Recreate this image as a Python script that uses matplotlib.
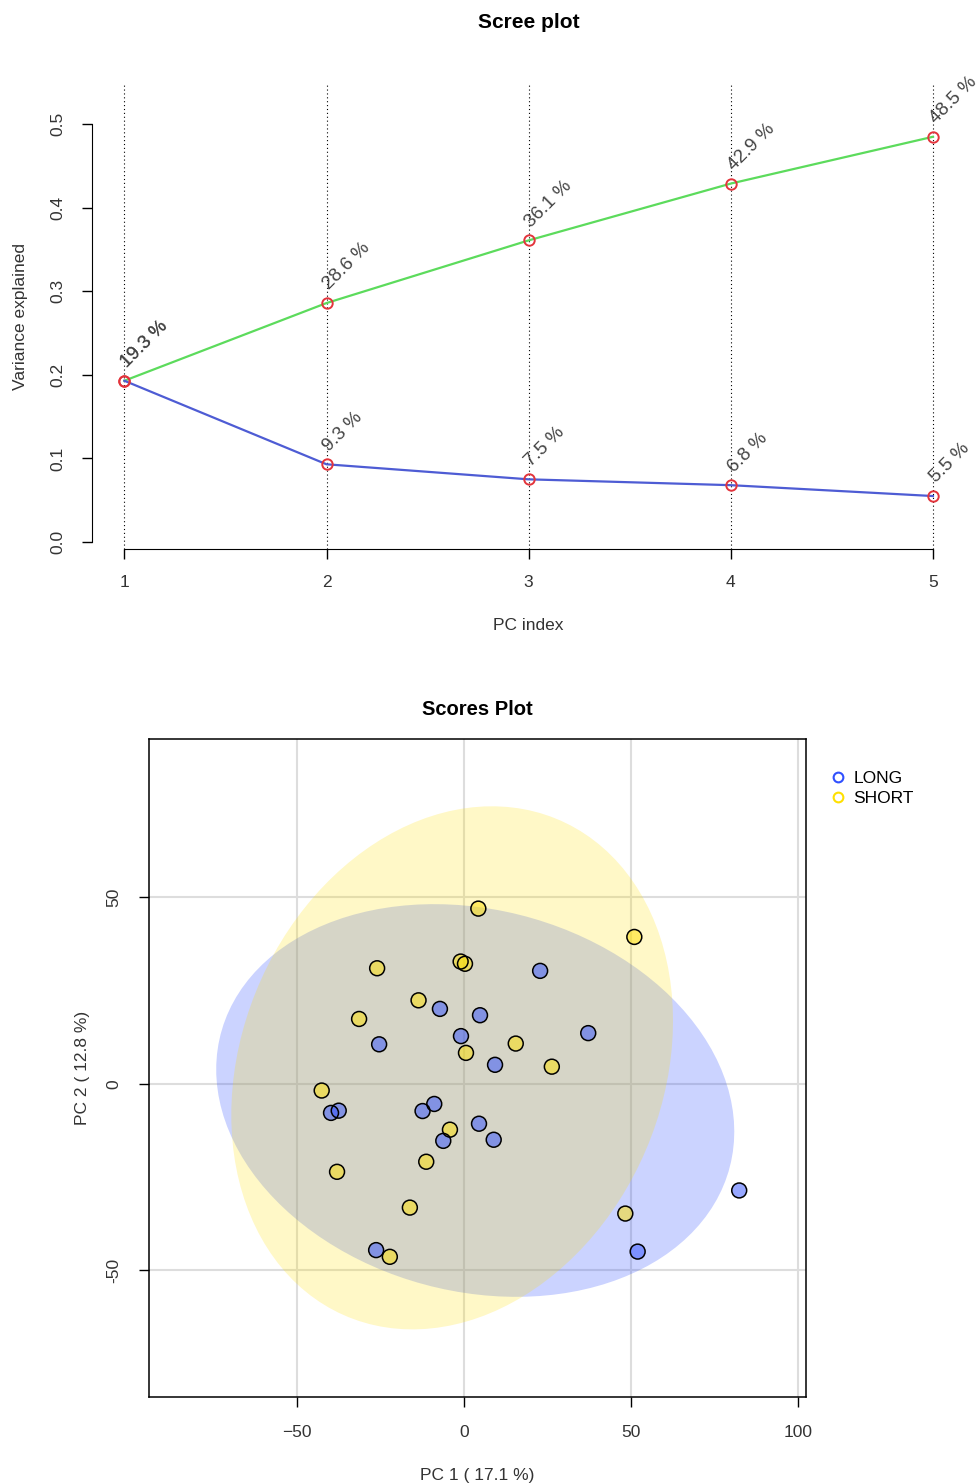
import numpy as np
import matplotlib
matplotlib.use('Agg')
import matplotlib.pyplot as plt
from matplotlib.lines import Line2D

plt.rcParams['font.family'] = ['Liberation Sans', 'DejaVu Sans']

# scree data
pcs = [1, 2, 3, 4, 5]
var_exp = [0.193, 0.093, 0.075, 0.068, 0.055]
cum_exp = [0.193, 0.286, 0.361, 0.429, 0.485]

# scores data (PC1, PC2)
long_pc1 = [22.8, -7.2, 4.8, 37.2, -0.9, -25.4, 9.3, -39.8, -37.5, -8.9, -12.4, 4.5, -6.2, 8.9, 82.4, -26.3, 52.0]
long_pc2 = [30.3, 20.1, 18.4, 13.6, 12.8, 10.6, 5.1, -7.8, -7.2, -5.4, -7.3, -10.7, -15.3, -15.0, -28.6, -44.6, -45.0]
short_pc1 = [4.3, 51.0, -1.0, 0.3, -26.0, -13.6, -31.4, 15.5, 0.6, 26.3, -42.6, -4.2, -38.0, -11.3, -16.2, 48.3, -22.2]
short_pc2 = [47.0, 39.4, 32.8, 32.2, 31.0, 22.4, 17.4, 10.8, 8.3, 4.6, -1.8, -12.3, -23.6, -20.9, -33.2, -34.8, -46.4]
groups = ['LONG', 'SHORT']

c_green = '#5cdb5c'
c_blue_line = '#4e5cd4'
c_red = '#e3343c'
c_long = '#3050ff'
c_short = '#ffe000'


def conf_ellipse(x, y, q=5.991, n=120):
    # 95% normal ellipse from the sample covariance
    xy = np.vstack([x, y])
    mu = xy.mean(axis=1)
    L = np.linalg.cholesky(np.cov(xy))
    t = np.linspace(0, 2 * np.pi, n)
    circ = np.vstack([np.cos(t), np.sin(t)]) * np.sqrt(q)
    pts = mu[:, None] + L @ circ
    return pts[0], pts[1]


fig = plt.figure(figsize=(9.79, 14.83), dpi=100)

#### scree plot ####
ax1 = fig.add_axes([0.094, 0.6298, 0.892, 0.3129])
for p in pcs:
    ax1.axvline(p, color='black', ls=(0, (1, 2.5)), lw=0.8, zorder=1)
ax1.plot(pcs, cum_exp, color=c_green, lw=1.6, zorder=2)
ax1.plot(pcs, var_exp, color=c_blue_line, lw=1.6, zorder=2)
ax1.plot(pcs, cum_exp, 'o', mfc='none', mec=c_red, ms=7.5, mew=1.4, zorder=3)
ax1.plot(pcs, var_exp, 'o', mfc='none', mec=c_red, ms=7.5, mew=1.4, zorder=3)
for vals in (cum_exp, var_exp):
    for p, v in zip(pcs, vals):
        ax1.annotate('%.1f %%' % (v * 100), (p, v), xytext=(4, 7), textcoords='offset points',
                     rotation=45, rotation_mode='anchor', ha='left', va='bottom',
                     fontsize=13.5, color='#444444', annotation_clip=False)

ax1.set_xlim(0.84, 5.16)
ax1.set_ylim(-0.0084, 0.547)
ax1.spines['top'].set_visible(False)
ax1.spines['right'].set_visible(False)
ax1.spines['left'].set_bounds(0, 0.5)
ax1.spines['bottom'].set_bounds(1, 5)
ax1.set_xticks(pcs)
ax1.set_yticks([0, 0.1, 0.2, 0.3, 0.4, 0.5])
ax1.set_yticklabels(['0.0', '0.1', '0.2', '0.3', '0.4', '0.5'], rotation=90, va='center')
ax1.tick_params(axis='both', direction='out', length=7, width=1, labelsize=12.5,
                labelcolor='#333333', pad=12)
ax1.set_xlabel('PC index', fontsize=12.5, color='#333333', labelpad=20)
ax1.set_ylabel('Variance explained', fontsize=12.5, color='#333333', labelpad=16)
ax1.set_title('Scree plot', fontsize=15, fontweight='bold', pad=41)

#### scores plot ####
ax2 = fig.add_axes([0.1522, 0.058, 0.6711, 0.4437])
ex, ey = conf_ellipse(long_pc1, long_pc2)
ax2.fill(ex, ey, color=c_long, alpha=0.25, lw=0, zorder=1)
ex, ey = conf_ellipse(short_pc1, short_pc2)
ax2.fill(ex, ey, color=c_short, alpha=0.22, lw=0, zorder=1)
ax2.scatter(long_pc1, long_pc2, s=115, c=c_long, alpha=0.5, edgecolors='none', zorder=3)
ax2.scatter(long_pc1, long_pc2, s=115, facecolors='none', edgecolors='black', linewidths=1.1, zorder=4)
ax2.scatter(short_pc1, short_pc2, s=115, c=c_short, alpha=0.5, edgecolors='none', zorder=3)
ax2.scatter(short_pc1, short_pc2, s=115, facecolors='none', edgecolors='black', linewidths=1.1, zorder=4)

ax2.set_xlim(-94.3, 102.4)
ax2.set_ylim(-84.0, 92.5)
ax2.set_xticks([-50, 0, 50, 100])
ax2.set_yticks([-50, 0, 50])
ax2.set_yticklabels(['-50', '0', '50'], rotation=90, va='center')
ax2.grid(True, color='#dddddd', lw=1.5, zorder=0)
ax2.set_axisbelow(True)
ax2.tick_params(axis='both', direction='out', length=7, width=1, labelsize=12.5,
                labelcolor='#333333', pad=13)
for s in ax2.spines.values():
    s.set_linewidth(1.1)
ax2.set_xlabel('PC 1 ( 17.1 %)', fontsize=12.5, color='#333333', labelpad=20)
ax2.set_ylabel('PC 2 ( 12.8 %)', fontsize=12.5, color='#333333', labelpad=12)
ax2.set_title('Scores Plot', fontsize=14.5, fontweight='bold', pad=17)

handles = [Line2D([], [], ls='none', marker='o', mfc='none', mec=c_long, mew=1.5, ms=7),
           Line2D([], [], ls='none', marker='o', mfc='none', mec=c_short, mew=1.5, ms=7)]
ax2.legend(handles, groups, loc='upper left', bbox_to_anchor=(1.027, 0.962), frameon=False,
           fontsize=12.5, handlelength=0.8, handletextpad=0.5, labelspacing=0.3,
           borderaxespad=0)

fig.savefig('out.png', dpi=100)
